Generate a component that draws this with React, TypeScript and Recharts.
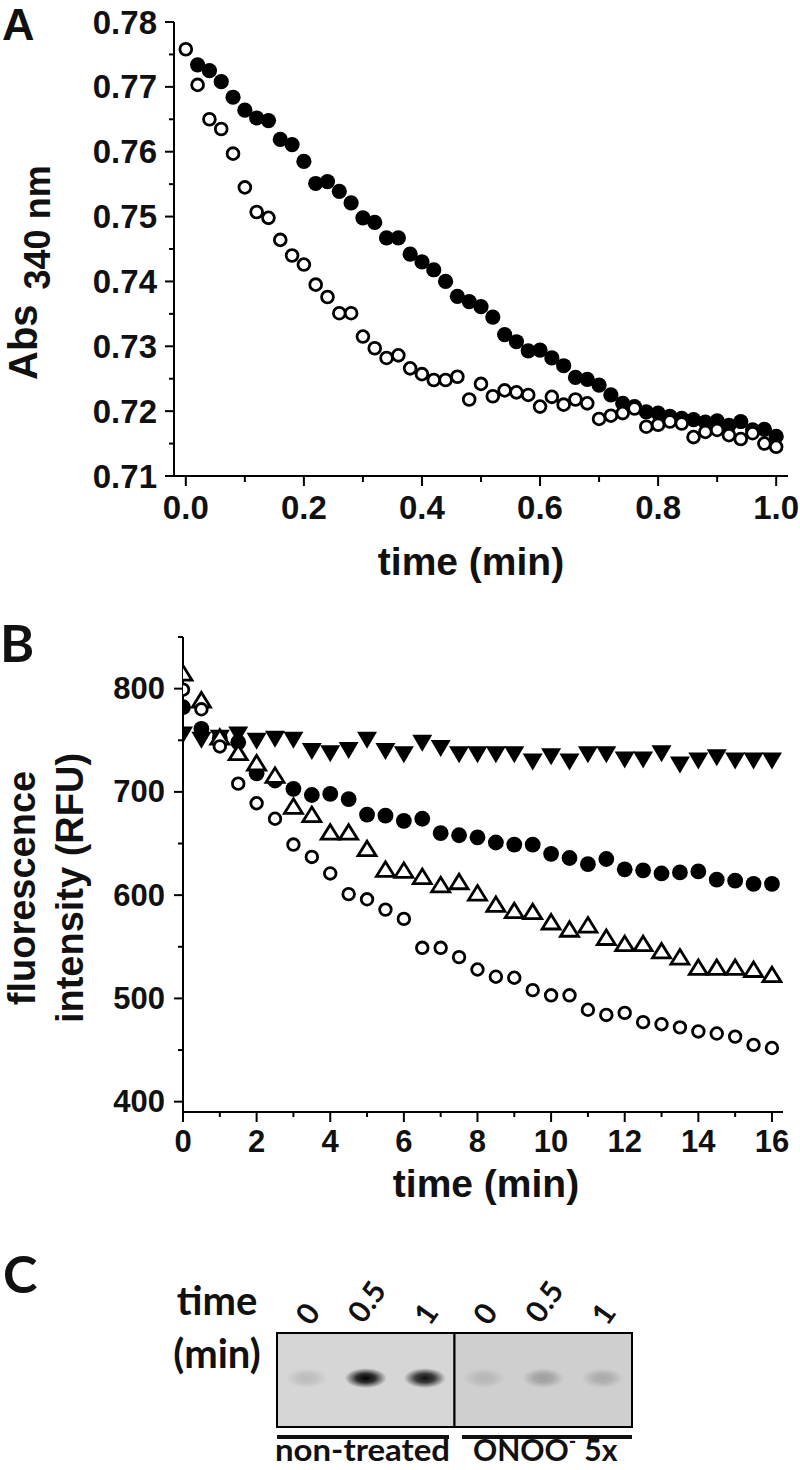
import React from 'react';
import { ScatterChart, Scatter, XAxis, YAxis, ReferenceArea } from 'recharts';

const ARIAL = '"Liberation Sans", Arial, sans-serif';
const CALIBRI = 'Lato, "Open Sans", sans-serif';

// Panel A - Abs 340 nm vs time (min)
const timeA = [0, 0.02, 0.04, 0.06, 0.08, 0.1, 0.12, 0.14, 0.16, 0.18, 0.2, 0.22, 0.24, 0.26, 0.28, 0.3, 0.32, 0.34,
  0.36, 0.38, 0.4, 0.42, 0.44, 0.46, 0.48, 0.5, 0.52, 0.54, 0.56, 0.58, 0.6, 0.62, 0.64, 0.66, 0.68, 0.7, 0.72, 0.74,
  0.76, 0.78, 0.8, 0.82, 0.84, 0.86, 0.88, 0.9, 0.92, 0.94, 0.96, 0.98, 1.0];
const absOpen = [
  0.7758, 0.7703, 0.765, 0.7635, 0.7597, 0.7545, 0.7507, 0.7498, 0.7464, 0.744,
  0.7426, 0.7395, 0.7376, 0.7351, 0.7351, 0.7315, 0.7297, 0.7282, 0.7286, 0.7266,
  0.7257, 0.7248, 0.7248, 0.7253, 0.7218, 0.7242, 0.7223, 0.7232, 0.7229, 0.7225,
  0.7207, 0.7222, 0.721, 0.7218, 0.7212, 0.7188, 0.7193, 0.7197, 0.7204, 0.7176,
  0.7179, 0.7184, 0.7181, 0.716, 0.7168, 0.7171, 0.7163, 0.7157, 0.7166, 0.715,
  0.7145,
];
// filled series starts at 0.02 min
const absFilled = [
  0.7734, 0.7725, 0.7708, 0.7684, 0.7664, 0.7652, 0.7648, 0.7619, 0.7611, 0.7585,
  0.7551, 0.7554, 0.7539, 0.7521, 0.7498, 0.7491, 0.7467, 0.7467, 0.7442, 0.743,
  0.7418, 0.74, 0.7377, 0.7369, 0.7361, 0.7345, 0.7318, 0.7307, 0.7293, 0.7294,
  0.7282, 0.727, 0.7252, 0.7249, 0.724, 0.7225, 0.7212, 0.7207, 0.7199, 0.7197,
  0.7192, 0.7189, 0.7187, 0.7183, 0.7185, 0.7178, 0.7184, 0.7171, 0.7172, 0.7161,
];
const yTicksA = [0.71, 0.715, 0.72, 0.725, 0.73, 0.735, 0.74, 0.745, 0.75, 0.755, 0.76, 0.765, 0.77, 0.775, 0.78];
const yMajorA = [0.71, 0.72, 0.73, 0.74, 0.75, 0.76, 0.77, 0.78];
const xTicksA = [0, 0.1, 0.2, 0.3, 0.4, 0.5, 0.6, 0.7, 0.8, 0.9, 1.0];
const xMajorA = [0, 0.2, 0.4, 0.6, 0.8, 1.0];

// Panel B - fluorescence intensity (RFU) vs time (min)
const timeB = [0, 0.5, 1, 1.5, 2, 2.5, 3, 3.5, 4, 4.5, 5, 5.5, 6, 6.5, 7, 7.5, 8, 8.5, 9, 9.5, 10, 10.5, 11, 11.5, 12,
  12.5, 13, 13.5, 14, 14.5, 15, 15.5, 16];
const triDownB = [755, 750, 752, 755, 749, 751, 750, 739, 737, 740, 750, 739, 736, 747, 742, 736, 736, 736, 736, 729,
  734, 729, 736, 736, 731, 731, 737, 726, 730, 733, 730, 730, 730];
const circB = [782, 761, 752, 748, 718, 711, 703, 697, 698, 693, 678, 677, 672, 674, 660, 658, 656, 651, 649, 649,
  640, 636, 630, 635, 625, 624, 621, 622, 623, 615, 614, 611, 611];
const triUpB = [815, 789, 753, 738, 728, 716, 686, 678, 661, 661, 645, 625, 624, 618, 610, 613, 602, 591, 585, 584,
  574, 567, 571, 559, 553, 553, 546, 540, 530, 530, 530, 528, 523];
const ringB = [799, 780, 744, 708, 689, 674, 649, 637, 621, 601, 596, 586, 577, 549, 549, 540, 528, 521, 520, 508,
  503, 503, 489, 484, 486, 477, 475, 472, 468, 466, 463, 455, 452];
const yTicksB = [400, 450, 500, 550, 600, 650, 700, 750, 800, 850];
const yMajorB = [400, 500, 600, 700, 800];
const xTicksB = [0, 1, 2, 3, 4, 5, 6, 7, 8, 9, 10, 11, 12, 13, 14, 15, 16];
const xMajorB = [0, 2, 4, 6, 8, 10, 12, 14, 16];

// Panel C - gel lanes
const laneTimes = ['0', '0.5', '1', '0', '0.5', '1'];
const laneDensity = [0.12, 1.0, 0.92, 0.12, 0.24, 0.18];
const bandRow = 0.52;

const pairs = (xs: number[], ys: number[]) => ys.map((v, i) => ({ t: xs[i], v }));
const openA = pairs(timeA, absOpen);
const filledA = pairs(timeA.slice(1), absFilled);
const triDownData = pairs(timeB, triDownB);
const circData = pairs(timeB, circB);
const triUpData = pairs(timeB, triUpB);
const ringData = pairs(timeB, ringB);
const gelData = laneTimes.map((t, i) => ({ lane: i + 0.5, row: bandRow, dens: laneDensity[i], id: i }));

const isMajor = (v: number, majors: number[]) => majors.some((m) => Math.abs(m - v) < 1e-6);

type TickOpts = { majors: number[]; fmt: (v: number) => string; font: number; gap: number; big: number; small: number };

const leftTick = (o: TickOpts) => (props: any) => {
  const { x, y, payload } = props;
  const major = isMajor(payload.value, o.majors);
  return (
    <g>
      <line x1={x - (major ? o.big : o.small)} x2={x} y1={y} y2={y} stroke="#000" strokeWidth={2} />
      {major && (
        <text x={x - o.gap} y={y} textAnchor="end" dominantBaseline="central" fontFamily={ARIAL} fontWeight="bold"
          fontSize={o.font} fill="#111">{o.fmt(payload.value)}</text>
      )}
    </g>
  );
};

const bottomTick = (o: TickOpts) => (props: any) => {
  const { x, y, payload } = props;
  const major = isMajor(payload.value, o.majors);
  return (
    <g>
      <line x1={x} x2={x} y1={y} y2={y + (major ? o.big : o.small)} stroke="#000" strokeWidth={2} />
      {major && (
        <text x={x} y={y + o.gap} textAnchor="middle" fontFamily={ARIAL} fontWeight="bold" fontSize={o.font}
          fill="#111">{o.fmt(payload.value)}</text>
      )}
    </g>
  );
};

const LaneTick = (props: any) => {
  const { x, y, payload } = props;
  const label = laneTimes[Math.floor(payload.value)] ?? '';
  const cy = y - 14 - label.length * 6;
  return (
    <text x={x} y={cy} transform={`rotate(-55, ${x}, ${cy})`} textAnchor="middle" dominantBaseline="central"
      fontFamily={CALIBRI} fontWeight="bold" fontSize={30} fill="#111">{label}</text>
  );
};

// markers
const dot = (r: number) => (p: any) => <circle cx={p.cx} cy={p.cy} r={r} fill="#000" />;
const ring = (r: number) => (p: any) => <circle cx={p.cx} cy={p.cy} r={r} fill="#fff" stroke="#000" strokeWidth={2.8} />;
const triDown = (p: any) => (
  <path d={`M${p.cx - 10},${p.cy - 8.5}L${p.cx + 10},${p.cy - 8.5}L${p.cx},${p.cy + 8.5}Z`} fill="#000" />
);
const triUp = (p: any) => (
  <path d={`M${p.cx},${p.cy - 7.5}L${p.cx + 9},${p.cy + 7}L${p.cx - 9},${p.cy + 7}Z`} fill="#fff" stroke="#000"
    strokeWidth={2.8} />
);
const band = (p: any) => {
  const d = p.payload.dens;
  const id = `band${p.payload.id}`;
  return (
    <g>
      <defs>
        <radialGradient id={id}>
          <stop offset="0" stopColor="#000" stopOpacity={d} />
          <stop offset="0.45" stopColor="#111" stopOpacity={d * 0.85} />
          <stop offset="1" stopColor="#222" stopOpacity={0} />
        </radialGradient>
      </defs>
      <ellipse cx={p.cx} cy={p.cy} rx={21} ry={10} fill={`url(#${id})`} />
    </g>
  );
};

const axisStroke = { stroke: '#000', strokeWidth: 2 };

export default function App() {
  return (
    <div style={{ position: 'absolute', left: 0, top: 0, width: 800, height: 1470, background: '#fff' }}>
      <div style={{ position: 'absolute', left: 0, top: 0 }}>
        <ScatterChart width={800} height={600} margin={{ top: 22, right: 12, bottom: 0, left: 0 }}>
          <XAxis type="number" dataKey="t" domain={[-0.02, 1.02]} ticks={xTicksA} interval={0} height={124}
            tickSize={0} tickMargin={0} tickLine={false} axisLine={axisStroke} allowDataOverflow
            tick={bottomTick({ majors: xMajorA, fmt: (v) => v.toFixed(1), font: 33, gap: 43, big: 10, small: 6 })} />
          <YAxis type="number" dataKey="v" domain={[0.71, 0.78]} ticks={yTicksA} interval={0} width={174}
            tickSize={0} tickMargin={0} tickLine={false} axisLine={axisStroke} allowDataOverflow
            tick={leftTick({ majors: yMajorA, fmt: (v) => v.toFixed(2), font: 33, gap: 17, big: 9, small: 5 })} />
          <Scatter data={filledA} shape={dot(7.6)} isAnimationActive={false} />
          <Scatter data={openA} shape={ring(5.9)} isAnimationActive={false} />
        </ScatterChart>
      </div>

      <div style={{ position: 'absolute', left: 0, top: 600 }}>
        <ScatterChart width={800} height={600} margin={{ top: 37, right: 17, bottom: 0, left: 0 }}>
          <XAxis type="number" dataKey="t" domain={[0, 16.3]} ticks={xTicksB} interval={0} height={88}
            tickSize={0} tickMargin={0} tickLine={false} axisLine={axisStroke} allowDataOverflow
            tick={bottomTick({ majors: xMajorB, fmt: (v) => String(v), font: 31, gap: 40, big: 10, small: 5 })} />
          <YAxis type="number" dataKey="v" domain={[390, 850]} ticks={yTicksB} interval={0} width={183}
            tickSize={0} tickMargin={0} tickLine={false} axisLine={axisStroke} allowDataOverflow
            tick={leftTick({ majors: yMajorB, fmt: (v) => String(v), font: 31, gap: 18, big: 9, small: 5 })} />
          <Scatter data={triDownData} shape={triDown} isAnimationActive={false} />
          <Scatter data={circData} shape={dot(7.9)} isAnimationActive={false} />
          <Scatter data={triUpData} shape={triUp} isAnimationActive={false} />
          <Scatter data={ringData} shape={ring(5.8)} isAnimationActive={false} />
        </ScatterChart>
      </div>

      <div style={{ position: 'absolute', left: 0, top: 1260 }}>
        <ScatterChart width={800} height={210} margin={{ top: 33, right: 168, bottom: 43, left: 277 }}>
          <XAxis type="number" dataKey="lane" orientation="top" domain={[0, 6]} ticks={gelData.map((d) => d.lane)}
            interval={0} height={40} tickSize={0} tickMargin={0} tickLine={false} axisLine={false} tick={LaneTick} />
          <YAxis type="number" dataKey="row" domain={[0, 1]} hide />
          <ReferenceArea x1={0} x2={3} y1={0} y2={1} fill="#d6d6d6" fillOpacity={1} stroke="#000" strokeWidth={2} />
          <ReferenceArea x1={3} x2={6} y1={0} y2={1} fill="#cfcfcf" fillOpacity={1} stroke="#000" strokeWidth={2} />
          <Scatter data={gelData} shape={band} isAnimationActive={false} />
        </ScatterChart>
      </div>

      <svg width={800} height={1470} style={{ position: 'absolute', left: 0, top: 0, pointerEvents: 'none' }}>
        <g fontFamily={ARIAL} fontWeight="bold" fill="#111">
          <text x={2} y={40} fontSize={45}>A</text>
          <text transform="translate(37,380) rotate(-90)" fontSize={40}>
            Abs<tspan dx={15} dy={13} fontSize={36}>340 nm</tspan>
          </text>
          <text x={471} y={575} fontSize={39} textAnchor="middle">time (min)</text>

          <text transform="translate(35,888) rotate(-90)" fontSize={38} textAnchor="middle">fluorescence</text>
          <text transform="translate(83,888) rotate(-90)" fontSize={38} textAnchor="middle">intensity (RFU)</text>
          <text x={486} y={1197} fontSize={39} textAnchor="middle">time (min)</text>
        </g>
        <g fontFamily={CALIBRI} fontWeight="bold" fill="#111">
          <text x={0} y={662} fontSize={52}>B</text>
          <text x={3} y={1293} fontSize={52}>C</text>
          <text x={217} y={1315} fontSize={40} textAnchor="middle">time</text>
          <text x={217} y={1368} fontSize={40} textAnchor="middle">(min)</text>
          <rect x={277} y={1435} width={172} height={4} fill="#111" />
          <rect x={462} y={1435} width={170} height={4} fill="#111" />
          <text x={275} y={1461} fontSize={30} textLength={175} lengthAdjust="spacingAndGlyphs">non-treated</text>
          <text x={473} y={1461} fontSize={30}>
            ONOO<tspan dy={-13} fontSize={20}>-</tspan>
            <tspan dy={13} dx={8}>5x</tspan>
          </text>
        </g>
      </svg>
    </div>
  );
}
